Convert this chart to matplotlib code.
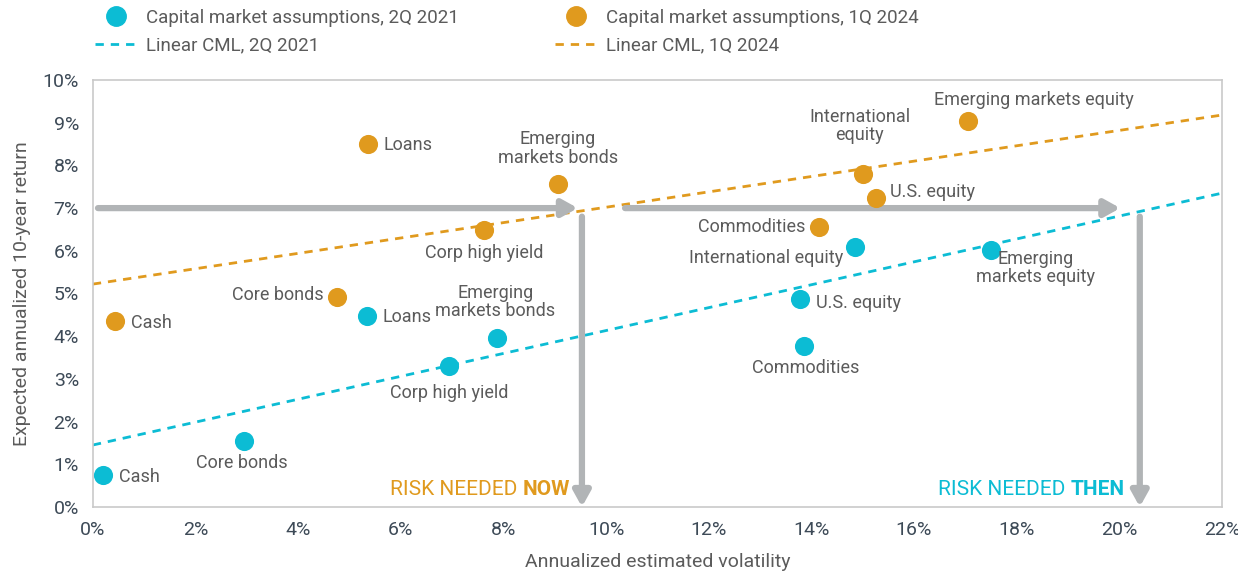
import matplotlib
matplotlib.use("Agg")
import matplotlib.pyplot as plt
from matplotlib.lines import Line2D

# ---------------- data ----------------
assets = ["Cash", "Core bonds", "Loans", "Corp high yield", "Emerging\nmarkets bonds",
          "Commodities", "International\nequity", "U.S. equity", "Emerging markets equity"]
vol_2024 = [0.43, 4.76, 5.36, 7.62, 9.06, 14.15, 15.0, 15.26, 17.06]
ret_2024 = [4.36, 4.92, 8.5, 6.49, 7.56, 6.56, 7.8, 7.24, 9.04]

assets_2021 = ["Cash", "Core bonds", "Loans", "Corp high yield", "Emerging\nmarkets bonds",
               "Commodities", "International equity", "U.S. equity", "Emerging\nmarkets equity"]
vol_2021 = [0.2, 2.94, 5.34, 6.94, 7.88, 13.86, 14.85, 13.78, 17.5]
ret_2021 = [0.75, 1.55, 4.47, 3.3, 3.96, 3.77, 6.09, 4.87, 6.02]

cml_x = [0, 22]
cml_2024 = [5.22, 9.18]
cml_2021 = [1.45, 7.35]

target_return = 7.0
risk_now = 9.53
risk_then = 20.4

x_ticks = list(range(0, 23, 2))
y_ticks = list(range(0, 11, 1))

# ---------------- style ----------------
GOLD = "#e09a1e"
TEAL = "#0cbcd4"
GRAY_ARROW = "#b1b4b6"
TXT = "#5b5b5b"
TICK = "#3d4a57"
LBL = 13

plt.rcParams["font.family"] = ["Roboto", "DejaVu Sans"]

fig = plt.figure(figsize=(12.38, 5.8), dpi=100)
ax = fig.add_axes([0.075, 0.126, 0.912, 0.736])
ax.set_xlim(0, 22)
ax.set_ylim(0, 10)
ax.set_xticks(x_ticks)
ax.set_xticklabels([f"{t}%" for t in x_ticks])
ax.set_yticks(y_ticks)
ax.set_yticklabels([f"{t}%" for t in y_ticks])
ax.tick_params(length=0, labelsize=14, colors=TICK, pad=10)
for s in ax.spines.values():
    s.set_color("#c9c9c9")
    s.set_linewidth(1.2)
ax.set_xlabel("Annualized estimated volatility", fontsize=14, color=TXT, labelpad=10)
ax.set_ylabel("Expected annualized 10-year return", fontsize=14, color=TXT, labelpad=8)

# CML lines
ax.plot(cml_x, cml_2024, color=GOLD, lw=2, ls=(0, (3, 2.5)), zorder=2)
ax.plot(cml_x, cml_2021, color=TEAL, lw=2, ls=(0, (3, 2.5)), zorder=2)

# arrows
akw = dict(arrowstyle="-|>,head_length=0.9,head_width=0.5", color=GRAY_ARROW, lw=4.5,
           shrinkA=0, shrinkB=0)
ax.annotate("", xy=(risk_now - 0.08, target_return), xytext=(0.1, target_return), arrowprops=akw, zorder=3)
ax.annotate("", xy=(risk_now, 0.0), xytext=(risk_now, target_return - 0.2), arrowprops=akw, zorder=3)
ax.annotate("", xy=(risk_then - 0.38, target_return), xytext=(10.37, target_return), arrowprops=akw, zorder=3)
ax.annotate("", xy=(risk_then, 0.0), xytext=(risk_then, target_return - 0.2), arrowprops=akw, zorder=3)

# points
ax.scatter(vol_2024, ret_2024, s=190, color=GOLD, zorder=4, linewidths=0)
ax.scatter(vol_2021, ret_2021, s=190, color=TEAL, zorder=4, linewidths=0)

# label offsets (pixels) and alignment
off_2024 = [(16, -2, "left"), (-14, 2, "right"), (16, -1, "left"), (0, -23, "center"),
            (0, 36, "center"), (-14, 0, "right"), (-3, 48, "center"), (14, 6, "left"), (65, 21, "center")]
off_2021 = [(16, -2, "left"), (-2, -22, "center"), (16, -1, "left"), (0, -27, "center"),
            (-2, 36, "center"), (2, -22, "center"), (-12, -11, "right"), (16, -4, "left"), (45, -18, "center")]

for name, x, y, (dx, dy, ha) in zip(assets, vol_2024, ret_2024, off_2024):
    ax.annotate(name, (x, y), xytext=(dx, dy), textcoords="offset pixels", ha=ha, va="center",
                fontsize=LBL, color=TXT, linespacing=1.05, zorder=5)
for name, x, y, (dx, dy, ha) in zip(assets_2021, vol_2021, ret_2021, off_2021):
    ax.annotate(name, (x, y), xytext=(dx, dy), textcoords="offset pixels", ha=ha, va="center",
                fontsize=LBL, color=TXT, linespacing=1.05, zorder=5)

# risk labels
def risk_label(xr, yr, word, color):
    b = ax.text(xr, yr, word, transform=ax.transAxes, ha="right", va="center",
                fontsize=15, color=color, fontweight="bold")
    fig.canvas.draw()
    bb = b.get_window_extent()
    xl = ax.transAxes.inverted().transform((bb.x0, bb.y0))[0]
    ax.text(xl, yr, "RISK NEEDED ", transform=ax.transAxes, ha="right", va="center",
            fontsize=15, color=color)

risk_label((570 - 93) / (1222 - 93), (507 - 490) / 427, "NOW", GOLD)
risk_label((1125 - 93) / (1222 - 93), (507 - 490) / 427, "THEN", TEAL)

# legend (two single-column legends)
def make_legend(h, xpx):
    leg = fig.legend(handles=h, ncol=1, loc="upper left",
                     bbox_to_anchor=(xpx / 1238, 1 - 9 / 580), borderpad=0, borderaxespad=0,
                     frameon=False, fontsize=13.5, handlelength=2.2, handletextpad=0.5,
                     labelspacing=0.5)
    for t in leg.get_texts():
        t.set_color(TXT)
    return leg

h1 = [Line2D([], [], marker="o", ls="none", color=TEAL, markersize=14,
             label="Capital market assumptions, 2Q 2021"),
      Line2D([], [], color=TEAL, lw=2, ls=(0, (3, 2.5)), label="Linear CML, 2Q 2021")]
h2 = [Line2D([], [], marker="o", ls="none", color=GOLD, markersize=14,
             label="Capital market assumptions, 1Q 2024"),
      Line2D([], [], color=GOLD, lw=2, ls=(0, (3, 2.5)), label="Linear CML, 1Q 2024")]
make_legend(h1, 95)
make_legend(h2, 555)

fig.savefig("out.png", dpi=100)
